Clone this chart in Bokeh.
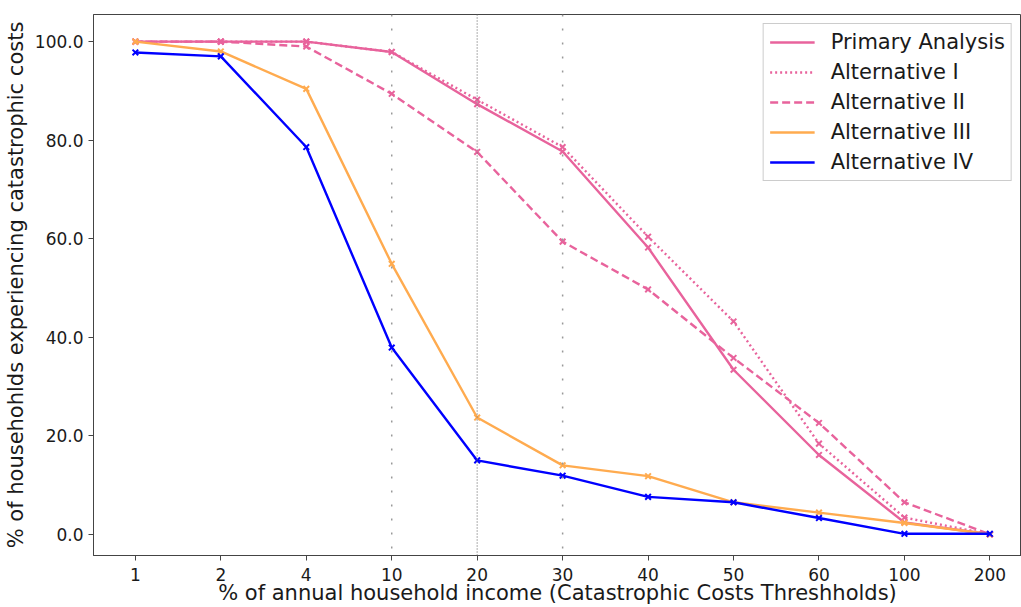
import numpy as np
from bokeh.plotting import figure
from bokeh.models import (Range1d, FixedTicker, NumeralTickFormatter, Span, Legend, LegendItem)
from bokeh.embed import file_html
from bokeh.resources import INLINE

thresholds = ["1", "2", "4", "10", "20", "30", "40", "50", "60", "100", "200"]
primary = [100.0, 100.0, 100.0, 97.9, 87.3, 77.7, 58.2, 33.4, 16.1, 2.4, 0.0]
alt_1 = [100.0, 100.0, 100.0, 97.9, 88.2, 78.6, 60.4, 43.2, 18.4, 3.4, 0.0]
alt_2 = [100.0, 100.0, 99.0, 89.4, 77.6, 59.4, 49.7, 35.8, 22.6, 6.5, 0.0]
alt_3 = [100.0, 98.0, 90.4, 54.9, 23.7, 14.0, 11.8, 6.5, 4.4, 2.3, 0.0]
alt_4 = [97.8, 97.0, 78.6, 37.9, 15.0, 11.9, 7.6, 6.5, 3.3, 0.1, 0.1]
y_ticks = [0, 20, 40, 60, 80, 100]
highlight = ["10", "30"]
center_line = "20"

PINK = "#e8639c"
ORANGE = "#ffab4f"
BLUE = "#0000ff"
FONT = "DejaVu Sans"

x = np.arange(len(thresholds))

p = figure(width=1021, height=607, output_backend="svg", toolbar_location=None,
           x_range=Range1d(-0.49, 10.37), y_range=Range1d(-4.3, 105.5),
           min_border_left=91, min_border_right=0, min_border_top=14, min_border_bottom=46)
p.grid.visible = False
p.outline_line_color = "#444444"
p.outline_line_width = 1
p.background_fill_color = "white"
p.border_fill_color = "white"

for t in highlight:
    p.add_layout(Span(location=thresholds.index(t), dimension="height", line_color="#999999",
                      line_width=1.5, line_dash="2 12"))
p.add_layout(Span(location=thresholds.index(center_line), dimension="height", line_color="#777777",
                  line_width=1.2, line_dash="1 2"))

series = [
    ("Primary Analysis", primary, PINK, "solid"),
    ("Alternative I", alt_1, PINK, "2 3"),
    ("Alternative II", alt_2, PINK, "8 4"),
    ("Alternative III", alt_3, ORANGE, "solid"),
    ("Alternative IV", alt_4, BLUE, "solid"),
]
items = []
for name, vals, col, dash in series:
    r = p.line(x, vals, line_color=col, line_width=2.4, line_dash=dash)
    p.scatter(x, vals, marker="x", size=8, line_color=col, line_width=2)
    items.append(LegendItem(label=name, renderers=[r]))

legend = Legend(items=items, location="top_right", label_text_font=FONT,
                label_text_font_size="21px", label_text_color="#1a1a1a",
                glyph_width=45, glyph_height=20, label_height=24, label_standoff=16,
                spacing=6, padding=6, margin=9, border_line_color="#cccccc",
                border_line_alpha=1, background_fill_alpha=0.9)
p.add_layout(legend)

p.xaxis.ticker = FixedTicker(ticks=list(x))
p.xaxis.major_label_overrides = {int(i): t for i, t in zip(x, thresholds)}
p.yaxis.ticker = FixedTicker(ticks=y_ticks)
p.yaxis.formatter = NumeralTickFormatter(format="0.0")

for ax in (p.xaxis, p.yaxis):
    ax.axis_line_color = "#444444"
    ax.major_tick_line_color = "#444444"
    ax.major_tick_out = 5
    ax.major_tick_in = 0
    ax.minor_tick_line_color = None
    ax.major_label_text_font = FONT
    ax.major_label_text_font_size = "17px"
    ax.major_label_text_color = "#1a1a1a"
    ax.axis_label_text_font = FONT
    ax.axis_label_text_font_size = "21px"
    ax.axis_label_text_font_style = "normal"
    ax.axis_label_text_color = "#1a1a1a"

p.xaxis.major_label_standoff = 7
p.yaxis.major_label_standoff = 5
p.xaxis.axis_label = "% of annual household income (Catastrophic Costs Threshholds)"
p.yaxis.axis_label = "% of househohlds experiencing catastrophic costs"
p.xaxis.axis_label_standoff = -3
p.yaxis.axis_label_standoff = 4

open("out.html", "w").write(file_html(p, INLINE))
